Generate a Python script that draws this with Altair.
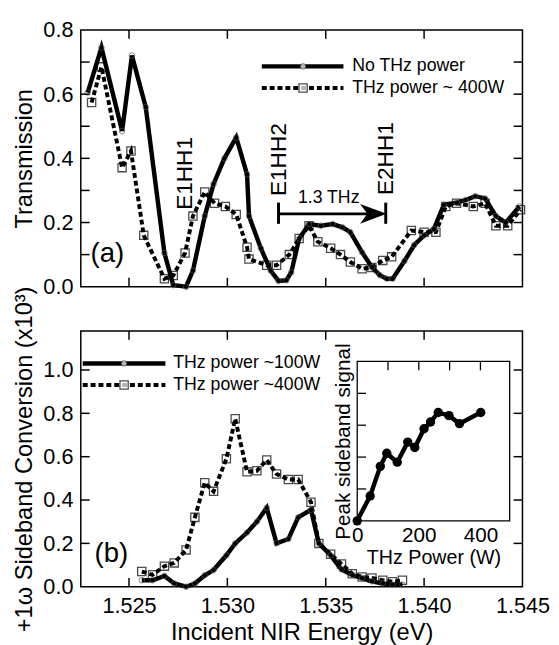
import altair as alt
import pandas as pd

FONT = "Liberation Sans"

# ---------------- data: panel (a) transmission ----------------
top_e_solid = [1.5229, 1.5236, 1.52465, 1.52515, 1.52585, 1.5268, 1.52725, 1.5279, 1.52825, 1.52885,
               1.5293, 1.52985, 1.53045, 1.531, 1.5311, 1.5317, 1.5322, 1.5326, 1.5330, 1.53325,
               1.53365, 1.53415, 1.53475, 1.53535, 1.53585, 1.53625, 1.53685, 1.53735, 1.53775, 1.5381,
               1.5384, 1.539, 1.5395, 1.54, 1.5405, 1.541, 1.54165, 1.5421, 1.5426, 1.5431,
               1.54365, 1.54415, 1.54485]
top_t_solid = [0.605, 0.745, 0.485, 0.72, 0.56, 0.105, 0.005, 0.0, 0.05, 0.22,
               0.32, 0.40, 0.465, 0.35, 0.22, 0.12, 0.05, 0.018, 0.02, 0.045,
               0.15, 0.195, 0.19, 0.195, 0.185, 0.17, 0.107, 0.06, 0.036, 0.025,
               0.025, 0.08, 0.13, 0.16, 0.18, 0.255, 0.262, 0.27, 0.282, 0.275,
               0.22, 0.2, 0.25]

top_e_dash = [1.5231, 1.5236, 1.52465, 1.5251, 1.52575, 1.5268, 1.52725, 1.52785, 1.52825, 1.52885,
              1.52935, 1.5299, 1.53045, 1.531, 1.5311, 1.532, 1.5325, 1.53315, 1.53365, 1.53415,
              1.5346, 1.53525, 1.53575, 1.53625, 1.53685, 1.53735, 1.5379, 1.53835, 1.53935, 1.54,
              1.5406, 1.5411, 1.54165, 1.5425, 1.5431, 1.54365, 1.54425, 1.5449]
top_t_dash = [0.574, 0.685, 0.371, 0.423, 0.16, 0.025, 0.035, 0.105, 0.22, 0.295,
              0.26, 0.25, 0.225, 0.123, 0.086, 0.067, 0.067, 0.1, 0.15, 0.19,
              0.14, 0.12, 0.1, 0.077, 0.056, 0.06, 0.082, 0.093, 0.175, 0.17,
              0.17, 0.25, 0.26, 0.25, 0.26, 0.19, 0.19, 0.24]

# ---------------- data: panel (b) sideband conversion ----------------
bot_e = [1.52565, 1.5262, 1.5268, 1.5273, 1.5279, 1.52835, 1.52885, 1.5293, 1.52995, 1.5304,
         1.531, 1.5315, 1.532, 1.5325, 1.5331, 1.5336, 1.53425, 1.53465, 1.53525, 1.5358,
         1.53635, 1.53685, 1.53735, 1.5379, 1.5384, 1.5389]
bot_100w = [0.03, 0.03, 0.05, 0.015, 0.0, 0.015, 0.053, 0.077, 0.145, 0.2,
            0.25, 0.30, 0.364, 0.2, 0.22, 0.32, 0.355, 0.2, 0.145, 0.08,
            0.054, 0.04, 0.025, 0.015, 0.01, 0.01]
bot_400w = [0.07, 0.055, 0.095, 0.11, 0.17, 0.32, 0.48, 0.44, 0.59, 0.775,
            0.53, 0.535, 0.585, 0.52, 0.495, 0.495, 0.39, 0.2, 0.15, 0.105,
            0.06, 0.045, 0.04, 0.03, 0.023, 0.03]

# ---------------- data: inset ----------------
inset_power = [0, 42, 75, 96, 130, 164, 187, 217, 238, 263, 298, 332, 401]
inset_signal = [0, 0.78, 1.71, 2.12, 1.84, 2.47, 2.3, 2.89, 3.1, 3.4, 3.3, 3.05, 3.4]

# ---------------- ticks ----------------
x_ticks = [1.525, 1.530, 1.535, 1.540, 1.545]
x_inner_ticks = [1.525, 1.530, 1.535, 1.540]
top_y_ticks = [0.0, 0.1, 0.2, 0.3, 0.4, 0.5, 0.6, 0.7, 0.8]
top_y_inner = [0.1, 0.2, 0.3, 0.4, 0.5, 0.6, 0.7]
bot_y_ticks = [0.0, 0.2, 0.4, 0.6, 0.8, 1.0]
bot_y_inner = [0.2, 0.4, 0.6, 0.8, 1.0]
inset_x_labels = [0, 200, 400]
inset_x_inner = [100, 200, 300, 400]
inset_y_inner = [1, 2, 3, 4]

W = 449
H1 = 261
H2 = 260
TK = 9

xscale = alt.Scale(domain=[1.52255, 1.545], nice=False, zero=False)
ytop_scale = alt.Scale(domain=[0, 0.8], nice=False, zero=False)
ybot_scale = alt.Scale(domain=[0, 1.18], nice=False, zero=False)

top_yaxis = alt.Axis(values=top_y_ticks, format=".1f", title="Transmission",
                     labelPadding=8, titlePadding=7)
bot_yaxis = alt.Axis(values=bot_y_ticks, format=".1f", title="+1\u03c9 Sideband Conversion (x10\u00b3)",
                     labelPadding=8, titlePadding=7)
bot_xaxis = alt.Axis(values=x_ticks, format=".3f", title="Incident NIR Energy (eV)",
                     labelPadding=9, titlePadding=5, labelFlush=False, labelOverlap=False)


def enc(xaxis, yscale, yaxis):
    return dict(x=alt.X("E:Q", scale=xscale, axis=xaxis),
                y=alt.Y("T:Q", scale=yscale, axis=yaxis))


# ---------------- panel (a) ----------------
df_ts = pd.DataFrame({"E": top_e_solid, "T": top_t_solid})
df_td = pd.DataFrame({"E": top_e_dash, "T": top_t_dash})
e_top = enc(None, ytop_scale, top_yaxis)

a_dash = alt.Chart(df_td).mark_line(color="black", strokeWidth=4, strokeDash=[5, 3]).encode(**e_top)
a_sq = alt.Chart(df_td).mark_point(shape="square", size=70, filled=False, color="black",
                                   strokeWidth=1.3).encode(**e_top)
a_solid = alt.Chart(df_ts).mark_line(color="black", strokeWidth=4.5).encode(**e_top)
a_circ = alt.Chart(df_ts).mark_point(shape="circle", size=32, filled=False, color="#555",
                                     strokeWidth=1).encode(**e_top)

df_xt = pd.DataFrame({"E": x_inner_ticks})
df_yt_top = pd.DataFrame({"T": top_y_inner})
xs_enc = alt.X("E:Q", scale=xscale, axis=None)
a_tb = alt.Chart(df_xt).mark_rule(color="black", strokeWidth=1.5).encode(
    x=xs_enc, y=alt.value(H1), y2=alt.value(H1 - TK))
a_tt = alt.Chart(df_xt).mark_rule(color="black", strokeWidth=1.5).encode(
    x=xs_enc, y=alt.value(0), y2=alt.value(TK))
a_tl = alt.Chart(df_yt_top).mark_rule(color="black", strokeWidth=1.5).encode(
    y=alt.Y("T:Q", scale=ytop_scale, axis=top_yaxis), x=alt.value(0), x2=alt.value(TK))
a_tr = alt.Chart(df_yt_top).mark_rule(color="black", strokeWidth=1.5).encode(
    y=alt.Y("T:Q", scale=ytop_scale, axis=top_yaxis), x=alt.value(W), x2=alt.value(W - TK))


def txt(xv, yv, label, size, angle=0, align="center"):
    kw = dict(fontSize=size, font=FONT, color="black", align=align, baseline="middle")
    if angle:
        kw["angle"] = angle
    return alt.Chart().mark_text(**kw).encode(
        x=alt.datum(xv), y=alt.datum(yv), text=alt.value(label))


a_e1 = txt(1.52785, 0.353, "E1HH1", 23, 270)
a_e2 = txt(1.53265, 0.396, "E1HH2", 23, 270)
a_e3 = txt(1.53805, 0.399, "E2HH1", 23, 270)
a_thz = txt(1.53515, 0.276, "1.3 THz", 18)
a_lab = txt(1.5239, 0.101, "(a)", 28)

arrow_line = alt.Chart().mark_rule(color="black", strokeWidth=3).encode(
    x=alt.datum(1.5326), x2=alt.datum(1.5376), y=alt.datum(0.227))
bar_l = alt.Chart().mark_rule(color="black", strokeWidth=3).encode(
    x=alt.datum(1.5326), y=alt.datum(0.196), y2=alt.datum(0.262))
bar_r = alt.Chart().mark_rule(color="black", strokeWidth=3).encode(
    x=alt.datum(1.53805), y=alt.datum(0.196), y2=alt.datum(0.262))
head = alt.Chart().mark_point(shape="M-1,-0.75L1,0L-1,0.75L-0.45,0Z", size=730, filled=True,
                              color="black", opacity=1).encode(
    x=alt.datum(1.53742), y=alt.datum(0.227))

leg_a = [
    alt.Chart().mark_rule(color="black", strokeWidth=4.5).encode(
        x=alt.value(184), x2=alt.value(267), y=alt.value(37)),
    alt.Chart().mark_point(shape="circle", size=32, filled=True, fill="white", stroke="#555",
                           strokeWidth=1).encode(x=alt.value(226), y=alt.value(37)),
    alt.Chart().mark_rule(color="black", strokeWidth=4, strokeDash=[5, 3]).encode(
        x=alt.value(184), x2=alt.value(267), y=alt.value(59)),
    alt.Chart().mark_point(shape="square", size=70, filled=True, fill="white", stroke="black",
                           strokeWidth=1.3).encode(x=alt.value(226), y=alt.value(59)),
    alt.Chart().mark_text(font=FONT, fontSize=18, align="left", baseline="middle", color="black").encode(
        x=alt.value(276), y=alt.value(37), text=alt.value("No THz power")),
    alt.Chart().mark_text(font=FONT, fontSize=18, align="left", baseline="middle", color="black").encode(
        x=alt.value(276), y=alt.value(59), text=alt.value("THz power ~ 400W")),
]

top = alt.layer(a_dash, a_sq, a_solid, a_circ, a_tb, a_tt, a_tl, a_tr,
                a_e1, a_e2, a_e3, a_thz, a_lab, arrow_line, bar_l, bar_r, head,
                *leg_a).properties(width=W, height=H1)

# ---------------- panel (b) ----------------
df_b1 = pd.DataFrame({"E": bot_e, "T": bot_100w})
df_b4 = pd.DataFrame({"E": bot_e, "T": bot_400w})
e_bot = enc(bot_xaxis, ybot_scale, bot_yaxis)

b_dash = alt.Chart(df_b4).mark_line(color="black", strokeWidth=4, strokeDash=[5, 3]).encode(**e_bot)
b_sq = alt.Chart(df_b4).mark_point(shape="square", size=70, filled=False, color="black",
                                   strokeWidth=1.3).encode(**e_bot)
b_solid = alt.Chart(df_b1).mark_line(color="black", strokeWidth=4.5).encode(**e_bot)
b_circ = alt.Chart(df_b1).mark_point(shape="circle", size=32, filled=False, color="#555",
                                     strokeWidth=1).encode(**e_bot)

xb_enc = alt.X("E:Q", scale=xscale, axis=bot_xaxis)
df_yt_bot = pd.DataFrame({"T": bot_y_inner})
b_tb = alt.Chart(df_xt).mark_rule(color="black", strokeWidth=1.5).encode(
    x=xb_enc, y=alt.value(H2), y2=alt.value(H2 - TK))
b_tt = alt.Chart(df_xt).mark_rule(color="black", strokeWidth=1.5).encode(
    x=xb_enc, y=alt.value(0), y2=alt.value(TK))
b_tl = alt.Chart(df_yt_bot).mark_rule(color="black", strokeWidth=1.5).encode(
    y=alt.Y("T:Q", scale=ybot_scale, axis=bot_yaxis), x=alt.value(0), x2=alt.value(TK))
b_tr = alt.Chart(df_yt_bot).mark_rule(color="black", strokeWidth=1.5).encode(
    y=alt.Y("T:Q", scale=ybot_scale, axis=bot_yaxis), x=alt.value(W), x2=alt.value(W - TK))

b_lab = txt(1.5241, 0.15, "(b)", 28)

leg_b = [
    alt.Chart().mark_rule(color="black", strokeWidth=4.5).encode(
        x=alt.value(2), x2=alt.value(86), y=alt.value(33)),
    alt.Chart().mark_point(shape="circle", size=32, filled=True, fill="white", stroke="#555",
                           strokeWidth=1).encode(x=alt.value(44), y=alt.value(33)),
    alt.Chart().mark_rule(color="black", strokeWidth=4, strokeDash=[5, 3]).encode(
        x=alt.value(2), x2=alt.value(86), y=alt.value(55)),
    alt.Chart().mark_point(shape="square", size=70, filled=True, fill="white", stroke="black",
                           strokeWidth=1.3).encode(x=alt.value(44), y=alt.value(55)),
    alt.Chart().mark_text(font=FONT, fontSize=18, align="left", baseline="middle", color="black").encode(
        x=alt.value(94), y=alt.value(33), text=alt.value("THz power ~100W")),
    alt.Chart().mark_text(font=FONT, fontSize=18, align="left", baseline="middle", color="black").encode(
        x=alt.value(94), y=alt.value(55), text=alt.value("THz power ~400W")),
]

main_b = alt.layer(b_dash, b_sq, b_solid, b_circ, b_tb, b_tt, b_tl, b_tr, b_lab, *leg_b)

# ---------------- inset ----------------
ix_scale = alt.Scale(domain=[0, 495], range=[281, 436], nice=False, zero=False)
iy_scale = alt.Scale(domain=[0, 5], range=[193, 31], nice=False, zero=False)
ix_axis = alt.Axis(orient="bottom", offset=-67, values=inset_x_labels, title="THz Power (W)",
                   labelPadding=4, titlePadding=2, titleFontSize=20, labelFontSize=21,
                   labelFlush=False)
iy_axis = alt.Axis(orient="left", offset=-281, labels=False, title="Peak sideband signal",
                   titlePadding=4, titleFontSize=21)
df_in = pd.DataFrame({"P": inset_power, "S": inset_signal})
ienc = dict(x=alt.X("P:Q", scale=ix_scale, axis=ix_axis), y=alt.Y("S:Q", scale=iy_scale, axis=iy_axis))

in_frame = alt.Chart().mark_rect(fill="white", stroke="black", strokeWidth=1.3).encode(
    x=alt.datum(0, scale=ix_scale, axis=ix_axis), x2=alt.datum(495),
    y=alt.datum(0, scale=iy_scale, axis=iy_axis), y2=alt.datum(5))
in_line = alt.Chart(df_in).mark_line(color="black", strokeWidth=4.5).encode(**ienc)
in_pts = alt.Chart(df_in).mark_circle(color="black", size=90, opacity=1).encode(**ienc)
in_tt = alt.Chart(pd.DataFrame({"P": inset_x_inner})).mark_rule(color="black", strokeWidth=1.3).encode(
    x=alt.X("P:Q", scale=ix_scale, axis=ix_axis), y=alt.value(31), y2=alt.value(31 + TK))
in_tl = alt.Chart(pd.DataFrame({"S": inset_y_inner})).mark_rule(color="black", strokeWidth=1.3).encode(
    y=alt.Y("S:Q", scale=iy_scale, axis=iy_axis), x=alt.value(281), x2=alt.value(281 + TK))

inset = alt.layer(in_frame, in_tt, in_tl, in_line, in_pts)

bottom = alt.layer(main_b, inset).resolve_scale(x="independent", y="independent").properties(
    width=W, height=H2)

chart = alt.vconcat(top, bottom, spacing=45, bounds="flush").properties(
    padding={"left": 3, "top": 5, "right": 0, "bottom": 0}
).configure_axis(
    labelFont=FONT, titleFont=FONT, labelFontSize=22, titleFontSize=24,
    titleFontWeight="normal", labelColor="black", titleColor="black",
    ticks=False, domain=False, grid=False
).configure_view(stroke="black", strokeWidth=1.5).configure_text(font=FONT)

chart.save("out.html", embed_options={"renderer": "svg", "actions": False})
